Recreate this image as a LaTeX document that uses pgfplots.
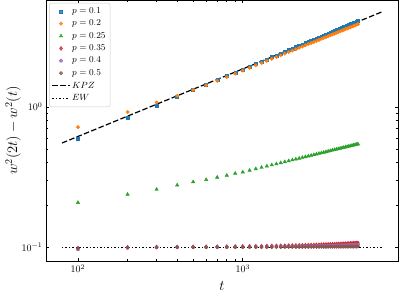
\documentclass[border=0pt]{standalone}
\usepackage{pgfplots}
\usepackage{pgfplotstable}
\pgfplotsset{compat=1.18}
\definecolor{c0}{HTML}{1F77B4}
\definecolor{c1}{HTML}{FF7F0E}
\definecolor{c2}{HTML}{2CA02C}
\definecolor{c3}{HTML}{D62728}
\definecolor{c4}{HTML}{9467BD}
\definecolor{c5}{HTML}{8C564B}
\pgfplotstableread{
t a b c d e f
100 0.595 0.718 0.208 0.0985 0.0965 0.0980
200 0.838 0.920 0.238 0.1000 0.0990 0.0995
300 1.023 1.074 0.258 0.10044 0.09996 0.09988
400 1.179 1.199 0.277 0.10058 0.10005 0.09991
500 1.316 1.321 0.292 0.10073 0.10014 0.09994
600 1.440 1.426 0.303 0.10087 0.10022 0.09997
700 1.553 1.534 0.315 0.10102 0.10031 0.10000
800 1.659 1.634 0.325 0.10116 0.10040 0.10002
900 1.758 1.727 0.336 0.10131 0.10048 0.10005
1000 1.852 1.816 0.343 0.10145 0.10057 0.10008
1100 1.941 1.899 0.3530 0.10160 0.10066 0.10011
1200 2.026 1.979 0.3619 0.10174 0.10074 0.10014
1300 2.108 2.056 0.3702 0.10189 0.10083 0.10016
1400 2.186 2.129 0.3781 0.10203 0.10092 0.10019
1500 2.262 2.200 0.3856 0.10218 0.10101 0.10022
1600 2.335 2.268 0.3928 0.10232 0.10109 0.10025
1700 2.406 2.334 0.3996 0.10247 0.10118 0.10028
1800 2.475 2.398 0.4062 0.10261 0.10127 0.10030
1900 2.542 2.460 0.4125 0.10276 0.10135 0.10033
2000 2.607 2.520 0.4186 0.10290 0.10144 0.10036
2100 2.671 2.579 0.4245 0.10305 0.10153 0.10039
2200 2.733 2.637 0.4302 0.10319 0.10161 0.10042
2300 2.793 2.693 0.4357 0.10334 0.10170 0.10044
2400 2.852 2.748 0.4410 0.10348 0.10179 0.10047
2500 2.910 2.802 0.4461 0.10363 0.10188 0.10050
2600 2.967 2.854 0.4511 0.10377 0.10196 0.10053
2700 3.022 2.905 0.4559 0.10392 0.10205 0.10056
2800 3.077 2.956 0.4607 0.10406 0.10214 0.10058
2900 3.130 3.005 0.4654 0.10421 0.10222 0.10061
3000 3.183 3.054 0.4699 0.10435 0.10231 0.10064
3100 3.235 3.101 0.4743 0.10450 0.10240 0.10067
3200 3.286 3.148 0.4786 0.10464 0.10248 0.10070
3300 3.337 3.195 0.4829 0.10479 0.10257 0.10072
3400 3.386 3.240 0.4870 0.10493 0.10266 0.10075
3500 3.435 3.285 0.4911 0.10508 0.10275 0.10078
3600 3.483 3.329 0.4950 0.10522 0.10283 0.10081
3700 3.530 3.373 0.4989 0.10537 0.10292 0.10084
3800 3.577 3.416 0.5027 0.10551 0.10301 0.10086
3900 3.623 3.458 0.5064 0.10566 0.10309 0.10089
4000 3.668 3.499 0.5101 0.10580 0.10318 0.10092
4100 3.713 3.541 0.5137 0.10595 0.10327 0.10095
4200 3.758 3.582 0.5172 0.10609 0.10335 0.10098
4300 3.802 3.621 0.5207 0.10624 0.10344 0.10100
4400 3.845 3.661 0.5242 0.10638 0.10353 0.10103
4500 3.888 3.700 0.5276 0.10653 0.10362 0.10106
4600 3.930 3.739 0.5309 0.10667 0.10370 0.10109
4700 3.972 3.777 0.5342 0.10682 0.10379 0.10112
4800 4.014 3.815 0.5374 0.10696 0.10388 0.10114
4900 4.055 3.852 0.5405 0.10711 0.10396 0.10117
5000 4.096 3.890 0.5436 0.10725 0.10405 0.10120
}\data
\begin{document}
\begin{tikzpicture}
\begin{axis}[
  xmode=log, ymode=log,
  scale only axis, width=352pt, height=261pt,
  xmin=64, xmax=8750, ymin=0.0798, ymax=5.78,
  xtick={100,1000}, ytick={0.1,1},
  tick align=inside, tick pos=both,
  major tick length=3.5pt, minor tick length=2pt,
  axis line style={line width=0.8pt},
  every tick/.style={black, line width=0.6pt},
  tick label style={font=\normalsize},
  xlabel={$t$}, ylabel={$w^2(2t)-w^2(t)$},
  label style={font=\Large},
  xlabel style={at={(axis description cs:0.5,-0.0958)}, anchor=center},
  ylabel style={at={(axis description cs:-0.0937,0.5)}, anchor=center},
  legend cell align=left,
  legend style={at={(0.009,0.989)}, anchor=north west, font=\small,
    draw=black!20, rounded corners=2pt, fill=white, fill opacity=0.8, text opacity=1,
    row sep=1.1pt, inner sep=2.5pt},
  every axis plot/.append style={only marks, mark size=1.7pt},
]
\addplot[c0, mark=square*, mark size=1.5pt] table[x=t, y=a] {\data};
\addlegendentry{$p=0.1$}
\addplot[c1, mark=*] table[x=t, y=b] {\data};
\addlegendentry{$p=0.2$}
\addplot[c2, mark=triangle*, mark size=2pt] table[x=t, y=c] {\data};
\addlegendentry{$p=0.25$}
\addplot[c3, mark=diamond*, mark size=2pt] table[x=t, y=d] {\data};
\addlegendentry{$p=0.35$}
\addplot[c4, mark=pentagon*] table[x=t, y=e] {\data};
\addlegendentry{$p=0.4$}
\addplot[c5, mark=*] table[x=t, y=f] {\data};
\addlegendentry{$p=0.5$}
\addplot[black, sharp plot, no marks, line width=1.2pt, dash pattern=on 5.5pt off 2.4pt] coordinates {(80,0.553) (7000,4.76)};
\addlegendentry{$KPZ$}
\addplot[black, sharp plot, no marks, line width=1.2pt, dash pattern=on 1.5pt off 2pt] coordinates {(80,0.1) (7000,0.1)};
\addlegendentry{$EW$}
\end{axis}
\pgfresetboundingbox
\path[use as bounding box] ([shift={(-46pt,-33pt)}]current axis.south west) rectangle ([shift={(1pt,0pt)}]current axis.north east);
\end{tikzpicture}
\end{document}
